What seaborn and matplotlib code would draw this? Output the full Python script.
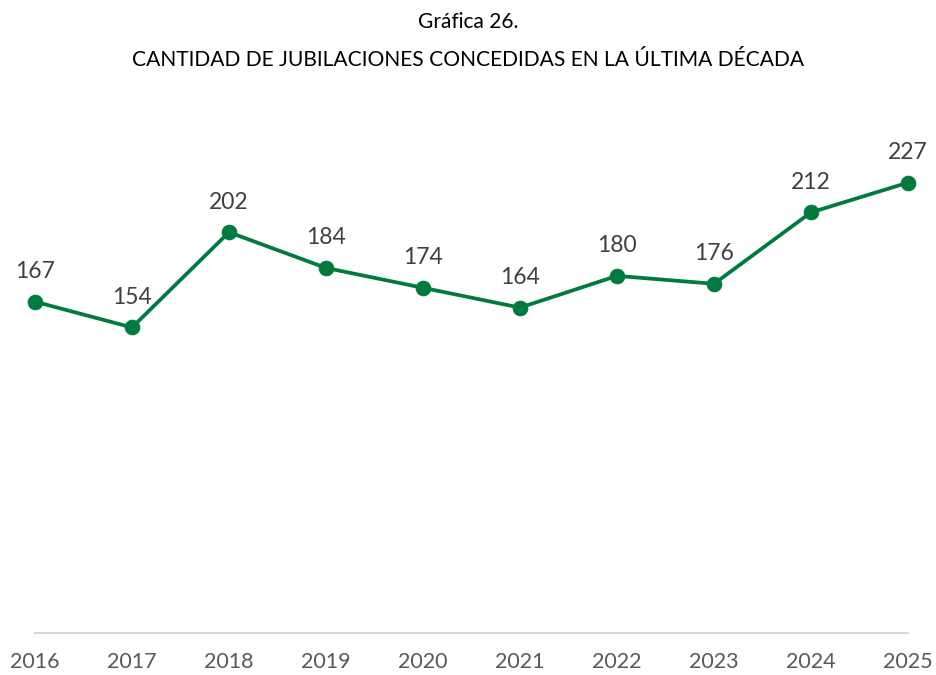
import numpy as np
import matplotlib
matplotlib.use("Agg")
import matplotlib.pyplot as plt
import pandas as pd
import seaborn as sns

# Data -----------------------------------------------------------------------
years = ["2016", "2017", "2018", "2019", "2020", "2021", "2022", "2023", "2024", "2025"]
jubilaciones = [167, 154, 202, 184, 174, 164, 180, 176, 212, 227]

green = "#007A3D"
gray_text = "#595959"

sns.set_theme(style="white")
plt.rcParams['font.family'] = ['Lato', 'DejaVu Sans']

df = pd.DataFrame({"pos": np.arange(len(years)), "valor": jubilaciones})

fig = plt.figure(figsize=(9.37, 6.75), dpi=100)
ax = fig.add_axes([35 / 937, 1 - 633 / 675, (908 - 35) / 937, (633 - 137) / 675])

sns.lineplot(data=df, x="pos", y="valor", ax=ax, color=green, linewidth=2.7,
             marker="o", markersize=10.5, markeredgecolor=green, markerfacecolor=green,
             clip_on=False)

for xi, yi in zip(df["pos"], df["valor"]):
    ax.annotate(str(yi), (xi, yi), xytext=(0, 14), textcoords="offset points",
                ha="center", va="bottom", fontsize=16.5, color="#404040")

ax.set_xlim(0, len(years) - 1)
ax.set_ylim(0, 250)
ax.set_xticks(df["pos"])
ax.set_xticklabels(years, fontsize=15.5, color=gray_text)
ax.tick_params(axis="x", length=0, pad=14)
ax.set_yticks([])
ax.set_xlabel("")
ax.set_ylabel("")
for side in ["top", "right", "left"]:
    ax.spines[side].set_visible(False)
ax.spines["bottom"].set_color("#d9d9d9")
ax.spines["bottom"].set_linewidth(1.5)

fig.text(0.5, 1 - 22 / 675, "Gráfica 26.", ha="center", va="center", fontsize=15, color="black")
fig.text(0.5, 1 - 60 / 675, "CANTIDAD DE JUBILACIONES CONCEDIDAS EN LA ÚLTIMA DÉCADA",
         ha="center", va="center", fontsize=15.1, color="black")

fig.savefig("out.png", dpi=100)
